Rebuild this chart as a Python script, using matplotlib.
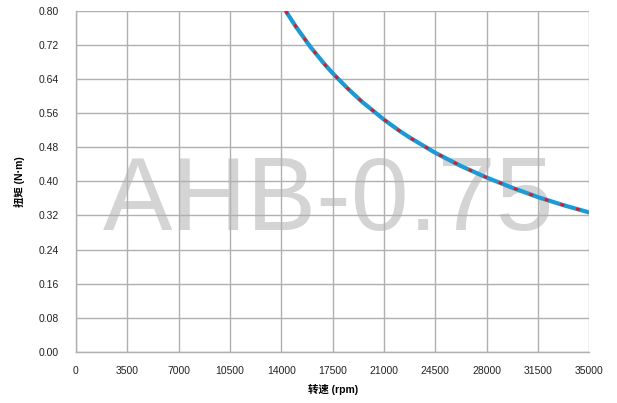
import matplotlib.pyplot as plt

# speed (rpm) and torque (N·m)
rpm = [14300, 15000, 16000, 17000, 17500, 18500, 19500, 21000, 22000, 22750,
       24500, 26250, 28000, 29750, 31500, 33250, 35000]
torque = [0.800, 0.763, 0.715, 0.673, 0.654, 0.619, 0.587, 0.545, 0.520, 0.503,
          0.467, 0.436, 0.409, 0.385, 0.363, 0.344, 0.327]

xticks = [0, 3500, 7000, 10500, 14000, 17500, 21000, 24500, 28000, 31500, 35000]
yticks = [0.00, 0.08, 0.16, 0.24, 0.32, 0.40, 0.48, 0.56, 0.64, 0.72, 0.80]

fonts = ['Liberation Sans', 'Noto Sans CJK SC', 'DejaVu Sans']
plt.rcParams['font.family'] = fonts

fig = plt.figure(figsize=(6.17, 4.03), dpi=100)
ax = fig.add_axes([0.123, 0.127, 0.832, 0.846])

ax.plot(rpm, torque, color='#1a9ad6', lw=3.0, solid_capstyle='butt', zorder=3)
ax.plot(rpm, torque, color='#e8161b', lw=2.0, dashes=(1.4, 4.5), zorder=4)

ax.set_xlim(0, 35000)
ax.set_ylim(0, 0.80)
ax.set_xticks(xticks)
ax.set_xticklabels([str(v) for v in xticks])
ax.set_yticks(yticks)
ax.set_yticklabels(['%.2f' % v for v in yticks])
ax.tick_params(length=0, labelsize=7.5, colors='#222222')
ax.tick_params(axis='y', pad=12)
ax.tick_params(axis='x', pad=10)

ax.grid(True, color='#b0b0b0', lw=1)
for s in ['top', 'right']:
    ax.spines[s].set_visible(False)
for s in ['left', 'bottom']:
    ax.spines[s].set_color('#b0b0b0')
    ax.spines[s].set_linewidth(1)

ax.set_xlabel('转速 (rpm)', fontsize=7.5, fontweight='bold', labelpad=6)
ax.set_ylabel('扭矩 (N·m)', fontsize=7.5, fontweight='bold', labelpad=10)

# watermark sits under the grid
ax.text(0.493, 0.358, 'AHB-0.75', transform=ax.transAxes, ha='center', va='baseline',
        fontsize=75, color='#d4d4d4', zorder=1)

fig.savefig('out.png', dpi=100)
